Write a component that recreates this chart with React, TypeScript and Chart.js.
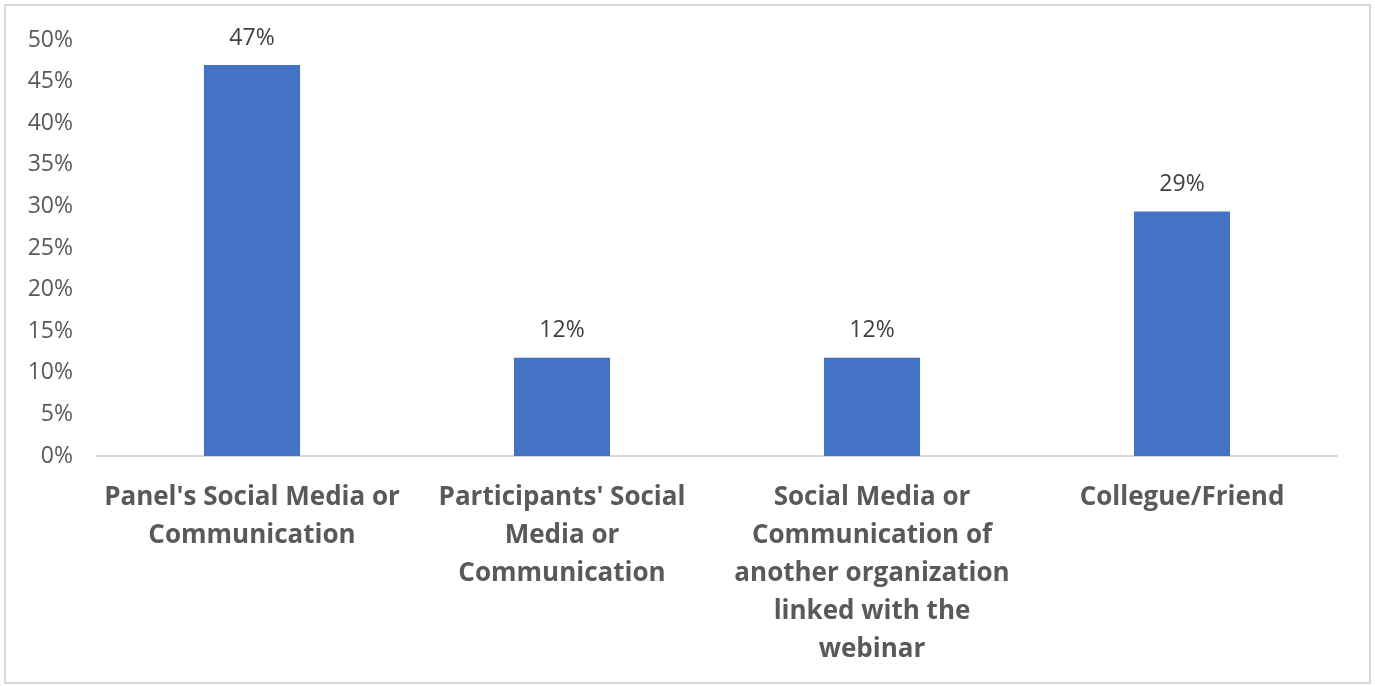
import React, { useEffect, useRef } from "react";
import { Chart, registerables } from "chart.js";

Chart.register(...registerables);

const categories: string[][] = [
  ["Panel's Social Media or", "Communication"],
  ["Participants' Social", "Media or", "Communication"],
  ["Social Media or", "Communication of", "another organization", "linked with the", "webinar"],
  ["Collegue/Friend"],
];
const values: number[] = [0.47, 0.118, 0.118, 0.294];
const valueLabels: string[] = ["47%", "12%", "12%", "29%"];
const yTicks: number[] = [0, 0.05, 0.1, 0.15, 0.2, 0.25, 0.3, 0.35, 0.4, 0.45, 0.5];

const FONT = "'Open Sans', 'DejaVu Sans', sans-serif";

const dataLabelPlugin = {
  id: "dataLabels",
  afterDatasetsDraw(chart: any) {
    const ctx = chart.ctx;
    const meta = chart.getDatasetMeta(0);
    ctx.save();
    ctx.font = `23px ${FONT}`;
    ctx.fillStyle = "#404040";
    ctx.textAlign = "center";
    ctx.textBaseline = "middle";
    meta.data.forEach((bar: any, i: number) => {
      ctx.fillText(valueLabels[i], bar.x, bar.y - 27);
    });
    ctx.restore();
  },
};

export default function App() {
  const ref = useRef<HTMLCanvasElement | null>(null);
  useEffect(() => {
    document.body.style.margin = "0";
    if (!ref.current) return;
    const chart = new Chart(ref.current, {
      type: "bar",
      data: {
        labels: categories,
        datasets: [
          {
            data: values,
            backgroundColor: "#4472C4",
            categoryPercentage: 1,
            barPercentage: 0.31,
          },
        ],
      },
      options: {
        animation: false,
        responsive: false,
        maintainAspectRatio: false,
        layout: { padding: { left: 0, top: 40, right: 38, bottom: 0 } },
        plugins: { legend: { display: false }, tooltip: { enabled: false } },
        scales: {
          x: {
            grid: { display: false, drawTicks: false },
            border: { display: true, color: "#d9d9d9", width: 2 },
            ticks: {
              color: "#595959",
              font: { family: FONT, size: 26, weight: "bold", lineHeight: 1.47 },
              padding: 22,
              maxRotation: 0,
              autoSkip: false,
            },
            afterFit: (scale: any) => {
              scale.height = 230;
            },
          },
          y: {
            min: 0,
            max: 0.5,
            grid: { display: false, drawTicks: false },
            border: { display: false },
            afterBuildTicks: (scale: any) => {
              scale.ticks = yTicks.map((v) => ({ value: v }));
            },
            ticks: {
              color: "#595959",
              font: { family: FONT, size: 23 },
              padding: 24,
              callback: (v: any) => `${Math.round(Number(v) * 100)}%`,
            },
            afterFit: (scale: any) => {
              scale.width = 97;
            },
          },
        },
      },
      plugins: [dataLabelPlugin],
    });
    return () => chart.destroy();
  }, []);
  return (
    <div style={{ position: "relative", width: 1375, height: 686, background: "#fff" }}>
      <canvas ref={ref} width={1375} height={686} style={{ position: "absolute", left: 0, top: 0 }} />
      <div
        style={{
          position: "absolute",
          left: 4,
          top: 4,
          width: 1363,
          height: 676,
          border: "2px solid #d9d9d9",
          pointerEvents: "none",
        }}
      />
    </div>
  );
}
